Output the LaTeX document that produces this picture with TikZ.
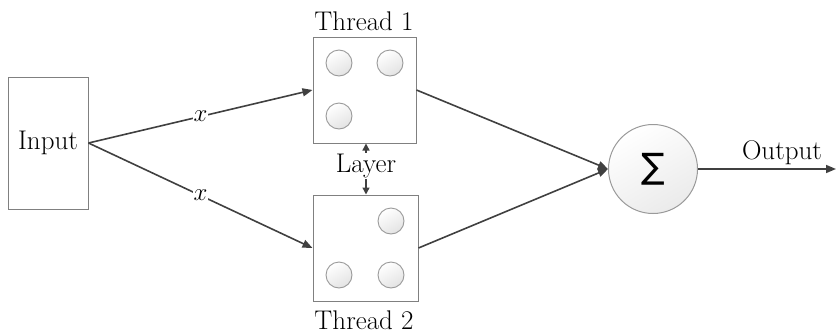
\documentclass[tikz,border=0pt]{standalone}
\usepackage{fontspec}
\newfontfamily\dejavu{DejaVu Sans}
\usetikzlibrary{arrows.meta}
\definecolor{linec}{HTML}{404040}
\definecolor{boxc}{HTML}{808080}
\definecolor{dotc}{HTML}{9A9A9A}
\begin{document}
\begin{tikzpicture}[x=1pt,y=-1pt,
  lbl/.style={font=\fontsize{27}{31}\selectfont, text=black, inner sep=1pt},
  boxn/.style={draw=boxc, line width=1pt, fill=white, inner sep=0pt},
  dot/.style={circle, draw=dotc, line width=0.9pt, minimum size=26pt, inner sep=0pt,
    shading=axis, top color=white, bottom color=gray!22, shading angle=30},
  arr/.style={draw=linec, line width=1.6pt, -{Triangle[length=10pt,width=8pt]}},
  dbl/.style={draw=linec, line width=1.4pt, -{Triangle[length=7pt,width=7pt]}}
]
\useasboundingbox (0,0) rectangle (836,335);

% boxes
\node[boxn, minimum width=80pt, minimum height=132pt] (in1) at (48,143) {};
\node[lbl] (intext) at (48,143) {Input};
\node[boxn, minimum width=103pt, minimum height=106pt] (t1) at (364.5,90) {};
\node[boxn, minimum width=105pt, minimum height=106pt] (t2) at (365.5,248) {};

% thread labels
\node[lbl] (t1lbl) at (364,21) {Thread \oldstylenums{1}};
\node[lbl] (t2lbl) at (364,320) {Thread \oldstylenums{2}};

% circles in thread 1
\node[dot] (c11) at (339,63) {};
\node[dot] (c12) at (390,63) {};
\node[dot] (c13) at (339,116) {};
% circles in thread 2
\node[dot] (c21) at (391,221) {};
\node[dot] (c22) at (339,275) {};
\node[dot] (c23) at (391,275) {};

% sum node
\node[circle, draw=dotc, line width=1pt, minimum size=89pt, inner sep=0pt,
  shading=axis, top color=white, bottom color=gray!16, shading angle=30,
  font=\dejavu\fontsize{35}{35}\selectfont] (sum) at (653,169) {∑};

% layer
\node[lbl, inner sep=1pt] (lay) at (366,166) {Layer};
\draw[dbl] (lay.north) -- (t1.south -| lay);
\draw[dbl] (lay.south) -- (t2.north -| lay);

% connectors
\draw[arr] (in1.east) -- node[lbl, fill=white, inner sep=1pt, pos=0.5] {$x$} (t1.west);
\draw[arr] (in1.east) -- node[lbl, fill=white, inner sep=1pt, pos=0.5] {$x$} (t2.west);
\draw[arr] (t1.east) -- (sum.west);
\draw[arr] (t2.east) -- (sum.west);
\coordinate (outend) at (836,169);
\draw[arr] (sum.east) -- (outend);
\node[lbl] (outlbl) at (782,153) {Output};
\end{tikzpicture}
\end{document}
